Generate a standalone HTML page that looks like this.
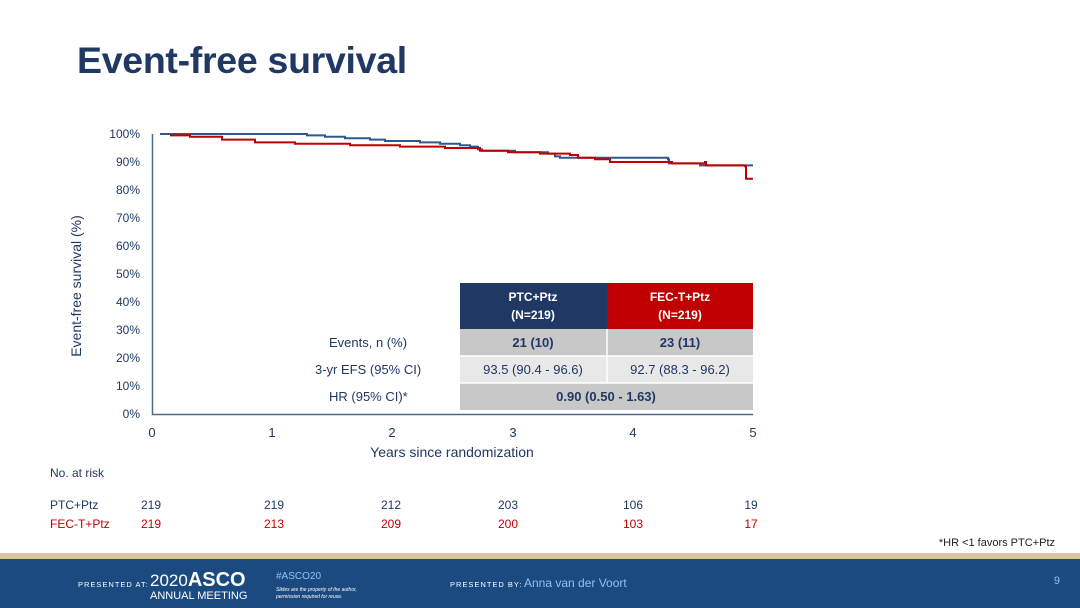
<!DOCTYPE html>
<html><head><meta charset="utf-8"><style>
body{margin:0;width:1080px;height:608px;background:#fff;overflow:hidden;font-family:"Liberation Sans",sans-serif;position:relative}
.t{position:absolute;white-space:nowrap}
</style></head><body>
<div class="t" style="left:77px;top:39px;font-size:37.5px;font-weight:bold;color:#1f3864;letter-spacing:-0.3px">Event-free survival</div>
<svg width="1080" height="608" style="position:absolute;left:0;top:0" font-family="Liberation Sans, sans-serif">
<g font-size="12" fill="#1f3864" text-anchor="end">
<text x="140" y="138">100%</text><text x="140" y="166">90%</text><text x="140" y="194">80%</text><text x="140" y="222">70%</text><text x="140" y="250">60%</text><text x="140" y="278">50%</text><text x="140" y="306">40%</text><text x="140" y="334">30%</text><text x="140" y="362">20%</text><text x="140" y="390">10%</text><text x="140" y="418">0%</text>
</g>
<g font-size="13" fill="#1f3864" text-anchor="middle">
<text x="152" y="437">0</text><text x="272" y="437">1</text><text x="392" y="437">2</text><text x="513" y="437">3</text><text x="633" y="437">4</text><text x="753" y="437">5</text>
<text x="452" y="457" font-size="14">Years since randomization</text>
<text transform="translate(81,286) rotate(-90)" font-size="14">Event-free survival (%)</text>
</g>
<path d="M152.5 134 V414.5 H753" fill="none" stroke="#4a6a8a" stroke-width="1.5"/>
<rect x="460" y="283" width="147" height="46" fill="#1f3864"/>
<rect x="607" y="283" width="146" height="46" fill="#c00000"/>
<rect x="460" y="329" width="293" height="27" fill="#c8c8c8"/>
<rect x="460" y="356" width="293" height="27" fill="#e8e8e8"/>
<rect x="460" y="383" width="293" height="27" fill="#c8c8c8"/>
<line x1="607" y1="329" x2="607" y2="383" stroke="#fff" stroke-width="1.5"/>
<line x1="460" y1="356" x2="753" y2="356" stroke="#fff" stroke-width="1.5"/>
<line x1="460" y1="383" x2="753" y2="383" stroke="#fff" stroke-width="1.5"/>
<g font-size="12" font-weight="bold" fill="#fff" text-anchor="middle">
<text x="533" y="301">PTC+Ptz</text><text x="533" y="319">(N=219)</text>
<text x="680" y="301">FEC-T+Ptz</text><text x="680" y="319">(N=219)</text>
</g>
<g font-size="13" fill="#1f3864">
<text x="329" y="347">Events, n (%)</text><text x="315" y="374">3-yr EFS (95% CI)</text><text x="329" y="401">HR (95% CI)*</text>
<g text-anchor="middle"><text x="533" y="347" font-weight="bold">21 (10)</text><text x="680" y="347" font-weight="bold">23 (11)</text>
<text x="533" y="374">93.5 (90.4 - 96.6)</text><text x="680" y="374">92.7 (88.3 - 96.2)</text>
<text x="606" y="401" font-weight="bold">0.90 (0.50 - 1.63)</text></g>
</g>
<path id="blue" fill="none" stroke="#2e5a8a" stroke-width="2"/>
<path id="red" fill="none" stroke="#c00000" stroke-width="2"/>
<g font-size="12" fill="#1f3864"><text x="50" y="477">No. at risk</text><text x="50" y="509">PTC+Ptz</text></g>
<g font-size="12" fill="#c00000"><text x="50" y="528">FEC-T+Ptz</text></g>
<g font-size="12" text-anchor="middle">
<g fill="#1f3864"><text x="151" y="509">219</text><text x="274" y="509">219</text><text x="391" y="509">212</text><text x="508" y="509">203</text><text x="633" y="509">106</text><text x="751" y="509">19</text></g>
<g fill="#c00000"><text x="151" y="528">219</text><text x="274" y="528">213</text><text x="391" y="528">209</text><text x="508" y="528">200</text><text x="633" y="528">103</text><text x="751" y="528">17</text></g>
</g>
<text x="1055" y="546" font-size="11" fill="#222" text-anchor="end">*HR &lt;1 favors PTC+Ptz</text>
<rect x="0" y="553" width="1080" height="6" fill="#d8c898"/>
<rect x="0" y="559" width="1080" height="49" fill="#1b4a80"/>
<g fill="#fff">
<text x="78" y="587" font-size="7.5" letter-spacing="1">PRESENTED AT:</text>
<text x="150" y="586" font-size="17">2020<tspan font-weight="bold" font-size="20">ASCO</tspan></text>
<text x="150" y="599" font-size="11">ANNUAL MEETING</text>
<text x="276" y="579" font-size="10" fill="#8fc0ee">#ASCO20</text>
<text x="276" y="591" font-size="5" font-style="italic">Slides are the property of the author,</text>
<text x="276" y="598" font-size="5" font-style="italic">permission required for reuse.</text>
<text x="450" y="587" font-size="7.5" letter-spacing="1">PRESENTED BY:</text>
<text x="524" y="587" font-size="12" fill="#8fc0ee">Anna van der Voort</text>
<text x="1060" y="584" font-size="11" fill="#8fc0ee" text-anchor="end">9</text>
</g>
</svg>
<script>
function y(v){return 414-v*2.8}
function path(start,pts,end){var d="M"+start+" "+y(pts[0][1]);for(var i=1;i<pts.length;i++){d+=" H"+pts[i][0]+" V"+y(pts[i][1]);}d+=" H"+end;return d;}
var b=[[160,100],[307,99.5],[325,99],[345,98.5],[370,98],[385,97.5],[420,97],[440,96.5],[460,96],[470,95.5],[478,94.5],[482,94],[515,93.5],[548,93],[555,92],[560,91.5],[668,91],[669,89.5],[700,88.8]];
var r=[[170,99.5],[190,99],[222,98],[255,97],[295,96.5],[350,96],[400,95.5],[445,95],[480,94],[508,93.5],[540,93],[570,92.5],[578,91.5],[595,91],[610,90],[671,90],[672,89.5],[705,90],[706,88.8],[745,88.5],[746,84]];
document.getElementById('blue').setAttribute('d',path(160,b,753));
document.getElementById('red').setAttribute('d',path(170,r,753));
</script>
</body></html>
